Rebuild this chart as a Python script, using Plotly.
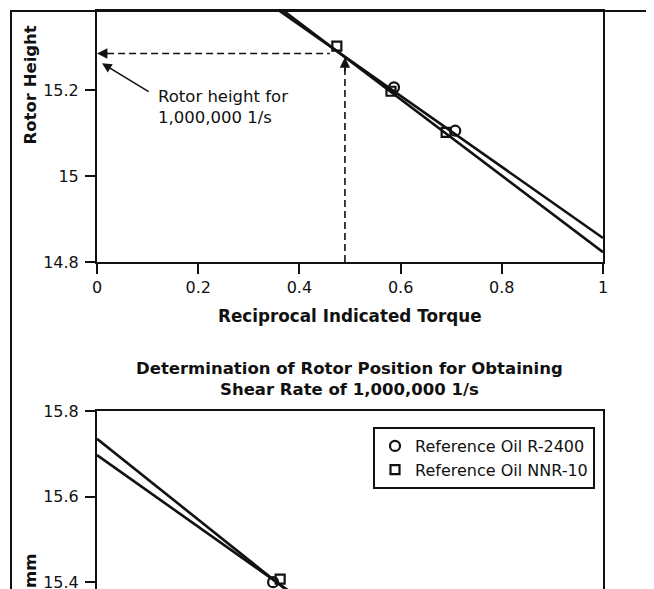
import plotly.graph_objects as go

# ---- data ----
torque_circle = [0.348, 0.587, 0.708]          # Reference Oil R-2400
height_circle = [15.400, 15.207, 15.106]
torque_square = [0.362, 0.474, 0.581, 0.690]   # Reference Oil NNR-10
height_square = [15.407, 15.303, 15.198, 15.102]

fit_x = [0.0, 1.0]
fit_circle_top = [15.684, 14.856]
fit_square_top = [15.714, 14.823]
fit_circle_bottom = [15.697, 14.860]
fit_square_bottom = [15.735, 14.791]

target_torque = 0.49
target_height = 15.286

x_ticks = [0, 0.2, 0.4, 0.6, 0.8, 1]
x_tick_labels = ["0", "0.2", "0.4", "0.6", "0.8", "1"]
y_ticks_top = [14.8, 15.0, 15.2]
y_tick_labels_top = ["14.8", "15", "15.2"]
y_ticks_bottom = [15.4, 15.6, 15.8]
y_tick_labels_bottom = ["15.4", "15.6", "15.8"]

series_names = ["Reference Oil R-2400", "Reference Oil NNR-10"]

# page is offset by the browser's 8px body margin
OFF = 8
W, H = 654 - OFF, 589 - OFF
FONT = "DejaVu Sans"
INK = "#111111"


def px(xp):
    return (xp - OFF) / W


def py(yp):
    return 1 - (yp - OFF) / H


fig = go.Figure()

panels = (
    ("x", "y", False, fit_circle_top, fit_square_top),
    ("x2", "y2", True, fit_circle_bottom, fit_square_bottom),
)
for xa, ya, legend, fc, fs in panels:
    fig.add_trace(go.Scatter(x=fit_x, y=fc, mode="lines", xaxis=xa, yaxis=ya,
                             line=dict(color=INK, width=2.6), showlegend=False, hoverinfo="skip"))
    fig.add_trace(go.Scatter(x=fit_x, y=fs, mode="lines", xaxis=xa, yaxis=ya,
                             line=dict(color=INK, width=2.6), showlegend=False, hoverinfo="skip"))
    fig.add_trace(go.Scatter(x=torque_circle, y=height_circle, mode="markers", xaxis=xa, yaxis=ya,
                             name=series_names[0], showlegend=legend,
                             marker=dict(symbol="circle-open", size=10, color=INK,
                                         line=dict(width=2.2, color=INK))))
    fig.add_trace(go.Scatter(x=torque_square, y=height_square, mode="markers", xaxis=xa, yaxis=ya,
                             name=series_names[1], showlegend=legend,
                             marker=dict(symbol="square-open", size=9, color=INK,
                                         line=dict(width=2.2, color=INK))))

axis_common = dict(showgrid=False, zeroline=False, linecolor=INK, linewidth=2,
                   ticklen=10, tickwidth=2, tickcolor=INK,
                   tickfont=dict(family=FONT, size=16, color=INK))

fig.update_layout(
    width=W, height=H,
    margin=dict(l=0, r=0, t=0, b=0, autoexpand=False),
    paper_bgcolor="white", plot_bgcolor="white",
    font=dict(family=FONT, size=16, color=INK),
    xaxis=dict(domain=[px(97), px(603)], range=[0, 1], tickvals=x_ticks, ticktext=x_tick_labels,
               showline=True, mirror=True, anchor="y", ticks="outside", **axis_common),
    yaxis=dict(domain=[py(262), py(11)], range=[14.8, 15.385], tickvals=y_ticks_top,
               ticktext=y_tick_labels_top, showline=True, mirror=True, anchor="x",
               ticks="outside", ticklabelstandoff=3, **axis_common),
    xaxis2=dict(domain=[px(97), px(603)], range=[0, 1], side="top", showline=True, mirror=False,
                showticklabels=False, anchor="y2", ticks="", **axis_common),
    yaxis2=dict(domain=[0, py(411)], range=[15.384, 15.8], tickvals=y_ticks_bottom,
                ticktext=y_tick_labels_bottom, showline=True, mirror=True, anchor="x2",
                ticks="outside", ticklabelstandoff=3, ticklabeloverflow="allow", **axis_common),
    legend=dict(x=px(373), y=py(427), xanchor="left", yanchor="top",
                bordercolor=INK, borderwidth=2, bgcolor="white",
                font=dict(family=FONT, size=16, color=INK), itemwidth=30, tracegroupgap=0),
    showlegend=True,
)

shapes = [
    # outer frame of the cropped page (drawn as an open-ended rectangle)
    dict(type="rect", xref="paper", yref="paper", x0=px(11), x1=1.05, y0=-0.05, y1=py(11),
         line=dict(color=INK, width=2), fillcolor="rgba(0,0,0,0)", layer="above"),
    # dashed read-off lines
    dict(type="line", xref="x", yref="y", x0=0.02, x1=target_torque - 0.03,
         y0=target_height, y1=target_height, line=dict(color=INK, width=1.6, dash="7px,4px")),
    dict(type="line", xref="x", yref="y", x0=target_torque, x1=target_torque,
         y0=14.8, y1=target_height - 0.02, line=dict(color=INK, width=1.6, dash="7px,4px")),
]
fig.update_layout(shapes=shapes)

annotations = [
    dict(x=0.0, y=target_height, ax=0.025, ay=target_height, xref="x", yref="y",
         axref="x", ayref="y", text="", showarrow=True, arrowhead=2, arrowsize=1.3,
         arrowwidth=1.6, arrowcolor=INK, standoff=0),
    dict(x=target_torque, y=target_height - 0.009, ax=target_torque, ay=target_height - 0.045,
         xref="x", yref="y", axref="x", ayref="y", text="", showarrow=True, arrowhead=2,
         arrowsize=1.3, arrowwidth=1.6, arrowcolor=INK, standoff=0),
    dict(x=0.01, y=15.263, ax=0.105, ay=15.195, xref="x", yref="y", axref="x", ayref="y",
         text="", showarrow=True, arrowhead=2, arrowsize=1.2, arrowwidth=1.6,
         arrowcolor=INK, standoff=0),
    dict(x=px(156), y=py(85), xref="paper", yref="paper", xanchor="left", yanchor="top",
         text="Rotor height for<br>1,000,000 1/s", showarrow=False, align="left",
         font=dict(family=FONT, size=16.5, color=INK)),
    dict(x=px(350), y=py(316), xref="paper", yref="paper", xanchor="center", yanchor="middle",
         text="<b>Reciprocal Indicated Torque</b>", showarrow=False,
         font=dict(family=FONT, size=16.8, color=INK)),
    dict(x=px(349), y=py(379), xref="paper", yref="paper", xanchor="center", yanchor="middle",
         text="<b>Determination of Rotor Position for Obtaining</b><br><b>Shear Rate of 1,000,000 1/s</b>",
         showarrow=False, font=dict(family=FONT, size=16.5, color=INK)),
    dict(x=px(30), y=py(24), xref="paper", yref="paper", xanchor="center", yanchor="top",
         text="<b>Rotor Height</b>", textangle=-90, showarrow=False,
         font=dict(family=FONT, size=16.5, color=INK)),
    dict(x=px(30), y=py(552), xref="paper", yref="paper", xanchor="center", yanchor="top",
         text="<b>mm</b>", textangle=-90, showarrow=False,
         font=dict(family=FONT, size=16.5, color=INK)),
]
fig.update_layout(annotations=annotations)

fig.write_html("out.html")
